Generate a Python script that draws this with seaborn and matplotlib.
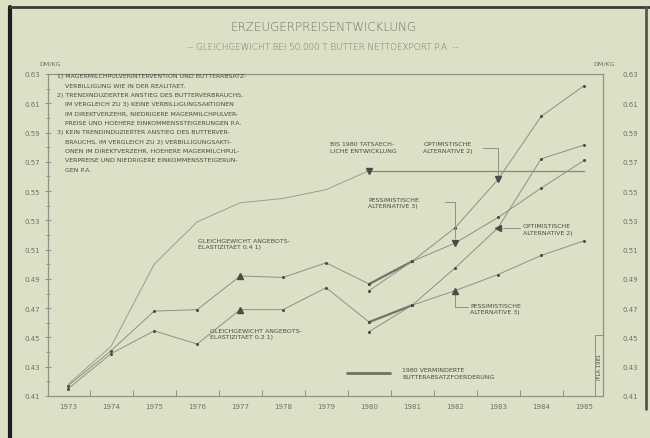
import matplotlib
matplotlib.use("Agg")
import matplotlib.pyplot as plt
import seaborn as sns
from matplotlib import font_manager
from matplotlib.lines import Line2D
from matplotlib.ticker import FixedLocator, MultipleLocator, FuncFormatter, NullFormatter

# ---- data -------------------------------------------------------------
years_hist = [1973, 1974, 1975, 1976, 1977, 1978, 1979, 1980]
price_actual = [0.418, 0.444, 0.500, 0.529, 0.542, 0.545, 0.551, 0.564]
price_e04 = [0.417, 0.441, 0.468, 0.469, 0.492, 0.491, 0.501, 0.4865]
price_e02 = [0.415, 0.439, 0.4545, 0.4455, 0.469, 0.469, 0.484, 0.4605]

# actual level held from 1980 onwards
years_flat = [1980, 1985]
price_flat = [0.564, 0.564]

# 1980 -> 1981 transition (reduced butter promotion = thick segment)
years_step = [1980, 1981]
step_e04_thick = [0.4865, 0.502]
step_e04_thin = [0.482, 0.502]
step_e02_thick = [0.4605, 0.472]
step_e02_thin = [0.454, 0.472]

# projections 1981-1985
years_proj = [1981, 1982, 1983, 1984, 1985]
opt2_e04 = [0.502, 0.525, 0.558, 0.601, 0.622]
pes3_e04 = [0.502, 0.5145, 0.532, 0.552, 0.571]
opt2_e02 = [0.472, 0.4975, 0.525, 0.572, 0.5815]
pes3_e02 = [0.472, 0.482, 0.493, 0.506, 0.516]

year_labels = [str(y) for y in range(1973, 1986)]
y_ticks = [0.41, 0.43, 0.45, 0.47, 0.49, 0.51, 0.53, 0.55, 0.57, 0.59, 0.61, 0.63]

notes = [
    "1) MAGERMILCHPULVERINTERVENTION UND BUTTERABSATZ-",
    "    VERBILLIGUNG WIE IN DER REALITAET.",
    "2) TRENDINDUZIERTER ANSTIEG DES BUTTERVERBRAUCHS,",
    "    IM VERGLEICH ZU 3) KEINE VERBILLIGUNGSAKTIONEN",
    "    IM DIREKTVERZEHR, NIEDRIGERE MAGERMILCHPULVER-",
    "    PREISE UND HOEHERE EINKOMMENSSTEIGERUNGEN P.A.",
    "3) KEIN TRENDINDUZIERTER ANSTIEG DES BUTTERVER-",
    "    BRAUCHS, IM VERGLEICH ZU 2) VERBILLIGUNGSAKTI-",
    "    ONEN IM DIREKTVERZEHR, HOEHERE MAGERMILCHPUL-",
    "    VERPREISE UND NIEDRIGERE EINKOMMENSSTEIGERUN-",
    "    GEN P.A.",
]

# ---- style ------------------------------------------------------------
sns.set_theme(style="white")
installed = {f.name for f in font_manager.fontManager.ttflist}
NARROW = "Liberation Sans Narrow" if "Liberation Sans Narrow" in installed else "DejaVu Sans"
plt.rcParams["font.family"] = ["DejaVu Sans"]

BG = "#dddfc7"
INK = "#8e9184"
TXT = "#6f7168"
DARK = "#4a4b44"

W, H = 650, 439
fig = plt.figure(figsize=(W / 100, H / 100), dpi=100, facecolor=BG)
ax = fig.add_axes([48 / W, 1 - 397 / H, (603 - 48) / W, (397 - 75) / H])
ax.set_facecolor(BG)


def line(x, y, lw=0.7, marker="o", color=INK):
    sns.lineplot(x=x, y=y, ax=ax, color=color, lw=lw, marker=marker,
                 markersize=2.2, markeredgewidth=0, markerfacecolor=DARK,
                 estimator=None, sort=False, legend=False)


line(years_hist, price_actual, marker=None, color="#9b9d91")
line(years_hist, price_e04)
line(years_hist, price_e02)
line(years_flat, price_flat, lw=0.9, marker=None, color="#85887c")
line(years_step, step_e04_thick, lw=1.6, color="#6f7267")
line(years_step, step_e02_thick, lw=1.6, color="#6f7267")
line(years_step, step_e04_thin)
line(years_step, step_e02_thin)
line(years_proj, opt2_e04)
line(years_proj, pes3_e04)
line(years_proj, opt2_e02)
line(years_proj, pes3_e02)

# bold pointer marks on the labelled points
pointers = [
    (years_hist[-1], price_actual[-1], "v"),
    (years_hist[4], price_e04[4], "^"),
    (years_hist[4], price_e02[4], "^"),
    (years_proj[2], opt2_e04[2], "v"),
    (years_proj[1], pes3_e04[1], "v"),
    (years_proj[2], opt2_e02[2], "<"),
    (years_proj[1], pes3_e02[1], "^"),
]
for px_, py_, m in pointers:
    ax.plot([px_], [py_], marker=m, markersize=3.8, color=DARK, zorder=5)

ax.set_xlim(1972.53, 1985.44)
ax.set_ylim(0.41, 0.63)

# x axis: tick marks between the years, year labels centred
ax.xaxis.set_major_locator(FixedLocator([y + 0.5 for y in range(1973, 1985)]))
ax.xaxis.set_major_formatter(NullFormatter())
ax.xaxis.set_minor_locator(FixedLocator(list(range(1973, 1986))))
ax.xaxis.set_minor_formatter(FuncFormatter(lambda v, p: year_labels[int(round(v)) - 1973]))
ax.tick_params(axis="x", which="major", direction="in", length=4, width=0.7,
               color=INK, bottom=True, top=False)
ax.tick_params(axis="x", which="minor", length=0, pad=5, labelsize=5.0,
               labelcolor=TXT, bottom=True)

# y axis (both sides)
ax.yaxis.set_major_locator(FixedLocator(y_ticks))
ax.yaxis.set_minor_locator(MultipleLocator(0.01))
ax.yaxis.set_major_formatter(FuncFormatter(lambda v, p: f"{v:.2f}"))
ax.tick_params(axis="y", which="major", direction="inout", length=5, width=0.7,
               color=INK, left=True, right=True, labelsize=5.0, labelcolor=TXT, pad=3)
ax.tick_params(axis="y", which="minor", direction="inout", length=3, width=0.6,
               color=INK, left=True, right=True)

ax2 = ax.twinx()
ax2.set_ylim(ax.get_ylim())
ax2.yaxis.set_major_locator(FixedLocator(y_ticks))
ax2.yaxis.set_minor_locator(MultipleLocator(0.01))
ax2.yaxis.set_major_formatter(FuncFormatter(lambda v, p: f"{v:.2f}"))
ax2.tick_params(axis="y", which="major", length=0, labelsize=5.0, labelcolor=TXT, pad=14)
ax2.tick_params(axis="y", which="minor", length=0)
for s in ax2.spines.values():
    s.set_visible(False)

for s in ax.spines.values():
    s.set_color(INK)
    s.set_linewidth(0.9)
ax.grid(False)

# ---- titles and unit labels -------------------------------------------
fig.text(323 / W, 1 - 27 / H, "ERZEUGERPREISENTWICKLUNG", ha="center", va="center",
         fontsize=8.6, color=TXT, fontweight="light")
fig.text(323 / W, 1 - 48 / H, "-- GLEICHGEWICHT BEI 50.000 T BUTTER NETTOEXPORT P.A. --",
         ha="center", va="center", fontsize=6.3, color=TXT, fontweight="light")
fig.text(50 / W, 1 - 64 / H, "DM/KG", ha="center", va="center", fontsize=4.6, color=TXT)
fig.text(604 / W, 1 - 64 / H, "DM/KG", ha="center", va="center", fontsize=4.6, color=TXT)

# ---- footnotes --------------------------------------------------------
for i, s in enumerate(notes):
    fig.text(57 / W, 1 - (77 + i * 9.3) / H, s, ha="left", va="center",
             fontsize=4.5, color=DARK, family=[NARROW, "DejaVu Sans"])

# ---- series annotations ----------------------------------------------
ann = dict(fontsize=4.5, color=DARK, ha="left", va="top", linespacing=1.35,
           family=[NARROW, "DejaVu Sans"])
ax.text(1979.1, 0.584, "BIS 1980 TATSAECH-\nLICHE ENTWICKLUNG", **ann)
ax.text(1976.02, 0.518, "GLEICHGEWICHT ANGEBOTS-\nELASTIZITAET 0.4 1)", **ann)
ax.text(1976.30, 0.4565, "GLEICHGEWICHT ANGEBOTS-\nELASTIZITAET 0.2 1)", **ann)
ax.text(1981.26, 0.584, "OPTIMISTISCHE\nALTERNATIVE 2)", **ann)
ax.text(1979.98, 0.546, "PESSIMISTISCHE\nALTERNATIVE 3)", **ann)
ax.text(1983.58, 0.528, "OPTIMISTISCHE\nALTERNATIVE 2)", **ann)
ax.text(1982.35, 0.4735, "PESSIMISTISCHE\nALTERNATIVE 3)", **ann)

lk = dict(color=INK, lw=0.7)
ax.plot([1982.65, 1983, 1983], [0.5794, 0.5794, 0.561], **lk)
ax.plot([1981.77, 1982, 1982], [0.5425, 0.5425, 0.518], **lk)
ax.plot([1983.12, 1983.5], [0.525, 0.525], **lk)
ax.plot([1982, 1982, 1982.3], [0.4795, 0.4708, 0.4708], **lk)

# legend for the thick transition segments
ax.plot([1979.49, 1980.49], [0.4257, 0.4257], color="#6e7066", lw=2.0)
ax.text(1980.77, 0.4295, "1980 VERMINDERTE\nBUTTERABSATZFOERDERUNG", **ann)

# archive stamp in the corner
ax.plot([0.9856, 0.9856, 1.0], [0.0, 0.189, 0.189], transform=ax.transAxes,
        color=INK, lw=0.7)
ax.text(0.993, 0.095, "IFLA 1981", transform=ax.transAxes, rotation=90,
        ha="center", va="center", fontsize=3.8, color=DARK)

# page frame
fig.add_artist(Line2D([10 / W, 10 / W], [0, 1 - 8 / H], color="#1e1e1c", lw=3))
fig.add_artist(Line2D([10 / W, 1], [1 - 8 / H, 1 - 8 / H], color="#3c3c38", lw=2))
fig.add_artist(Line2D([646 / W, 646 / W], [1 - 410 / H, 1 - 8 / H], color="#55554f", lw=2))

fig.savefig("out.png", dpi=100, facecolor=BG)
